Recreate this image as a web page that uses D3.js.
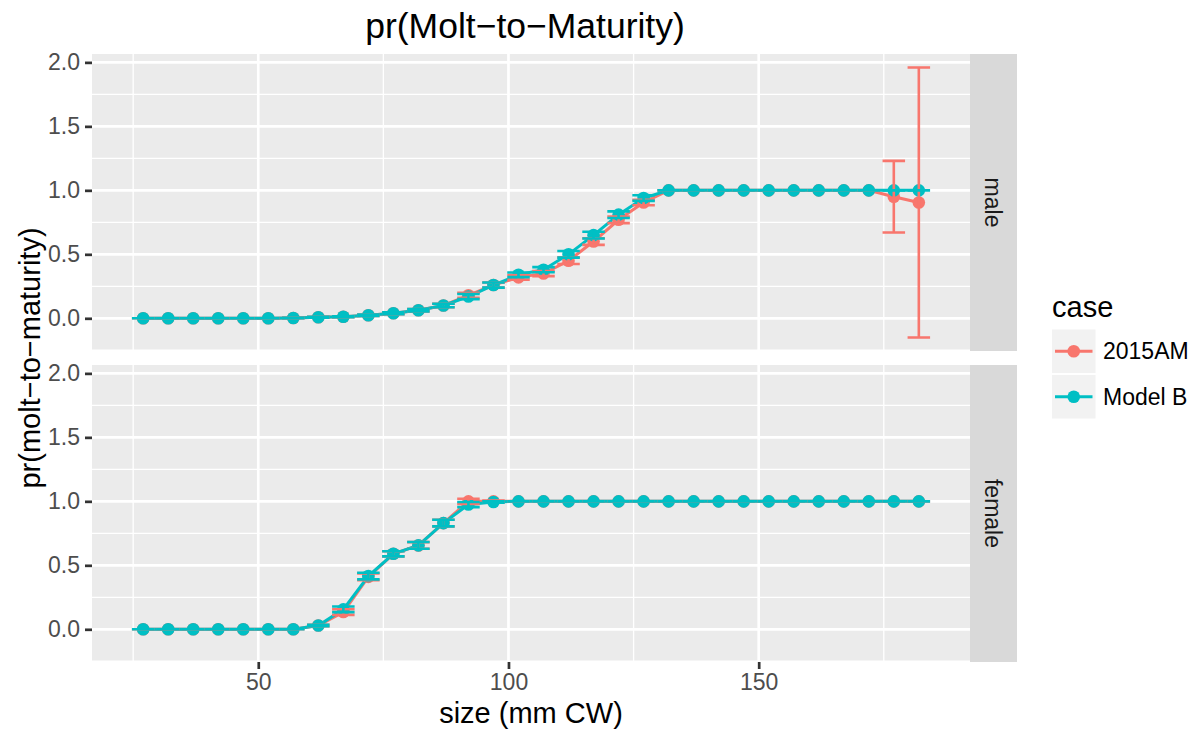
<!DOCTYPE html>
<html><head><meta charset="utf-8">
<script src="https://cdn.jsdelivr.net/npm/d3@7"></script>
<style>
body{margin:0;background:#fff}
text{font-family:"Liberation Sans",Arial,Helvetica,sans-serif}
</style>
</head><body>
<svg id="c" width="1198" height="732"></svg>
<script>
// ---- data ----
const sizes = [27,32,37,42,47,52,57,62,67,72,77,82,87,92,97,102,107,112,117,122,127,132,137,142,147,152,157,162,167,172,177,182];
const cases = ["2015AM","Model B"];
const caseColors = ["#F8766D","#00BFC4"];
const facets = ["male","female"];

const male2015   = [0,0,0,0,0,0,0.002,0.008,0.012,0.024,0.04,0.063,0.1,0.18,0.26,0.32,0.35,0.45,0.6,0.77,0.905,1,1,1,1,1,1,1,1,1,0.95,0.905];
const male2015se = [0,0,0,0,0,0,0.002,0.003,0.004,0.005,0.007,0.01,0.014,0.02,0.02,0.018,0.02,0.026,0.026,0.026,0.022,0,0,0,0,0,0,0,0,0,0.28,1.055];
const maleB      = [0,0,0,0,0,0,0.002,0.008,0.012,0.024,0.04,0.063,0.1,0.17,0.26,0.34,0.38,0.5,0.65,0.81,0.94,1,1,1,1,1,1,1,1,1,1,1];
const maleBse    = [0,0,0,0,0,0,0.002,0.003,0.004,0.005,0.007,0.01,0.014,0.02,0.02,0.018,0.02,0.026,0.026,0.026,0.022,0,0,0,0,0,0,0,0,0,0,0];

const female2015   = [0,0,0,0,0,0,0,0.03,0.135,0.41,0.59,0.655,0.83,1.0,1,1,1,1,1,1,1,1,1,1,1,1,1,1,1,1,1,1];
const female2015se = [0,0,0,0,0,0,0,0.006,0.022,0.026,0.02,0.026,0.026,0.02,0.006,0,0,0,0,0,0,0,0,0,0,0,0,0,0,0,0,0];
const femaleB      = [0,0,0,0,0,0,0,0.03,0.156,0.416,0.59,0.656,0.83,0.975,0.995,1,1,1,1,1,1,1,1,1,1,1,1,1,1,1,1,1];
const femaleBse    = [0,0,0,0,0,0,0,0.006,0.022,0.026,0.02,0.026,0.026,0.02,0.006,0,0,0,0,0,0,0,0,0,0,0,0,0,0,0,0,0];

const xTicks = [50,100,150];
const xMinor = [25,75,125,175];
const yTicks = [0,0.5,1,1.5,2];
const yTickLabels = ["0.0","0.5","1.0","1.5","2.0"];
const yMinor = [-0.25,0.25,0.75,1.25,1.75];

// ---- layout ----
const svg = d3.select("#c");
const L = 92, R = 970, stripW = 47;
const panelTops = [54, 365], panelH = 297;
const capHalf = 2.25;

const series = [
  [{v:male2015, se:male2015se},{v:maleB, se:maleBse}],
  [{v:female2015, se:female2015se},{v:femaleB, se:femaleBse}]
];

// domains with ggplot-like 5% expansion
const xlo = d3.min(sizes)-capHalf, xhi = d3.max(sizes)+capHalf;
const xpad = (xhi-xlo)*0.05;
const x = d3.scaleLinear().domain([xlo-xpad, xhi+xpad]).range([L, R]);
let ylo = Infinity, yhi = -Infinity;
series.forEach(p=>p.forEach(s=>s.v.forEach((v,i)=>{ylo=Math.min(ylo,v-s.se[i]); yhi=Math.max(yhi,v+s.se[i]);})));
const ypad = (yhi-ylo)*0.05;

const fontSmall = 23, fontMid = 29;

facets.forEach((f, fi) => {
  const top = panelTops[fi];
  const y = d3.scaleLinear().domain([ylo-ypad, yhi+ypad]).range([top+panelH, top]);
  const g = svg.append("g");
  g.append("rect").attr("x",L).attr("y",top).attr("width",R-L).attr("height",panelH).attr("fill","#ebebeb");
  // minor grid
  yMinor.filter(t=>y(t)>=top && y(t)<=top+panelH).forEach(t=>g.append("line").attr("x1",L).attr("x2",R).attr("y1",y(t)).attr("y2",y(t)).attr("stroke","#fff").attr("stroke-width",1.35));
  xMinor.forEach(t=>g.append("line").attr("x1",x(t)).attr("x2",x(t)).attr("y1",top).attr("y2",top+panelH).attr("stroke","#fff").attr("stroke-width",1.35));
  yTicks.forEach(t=>g.append("line").attr("x1",L).attr("x2",R).attr("y1",y(t)).attr("y2",y(t)).attr("stroke","#fff").attr("stroke-width",2.7));
  xTicks.forEach(t=>g.append("line").attr("x1",x(t)).attr("x2",x(t)).attr("y1",top).attr("y2",top+panelH).attr("stroke","#fff").attr("stroke-width",2.7));

  // y axis
  const ya = g.append("g").attr("transform",`translate(${L},0)`)
    .call(d3.axisLeft(y).tickValues(yTicks).tickFormat((d,i)=>yTickLabels[i]).tickSize(7).tickPadding(5));
  ya.select(".domain").remove();
  ya.selectAll(".tick line").attr("stroke","#333").attr("stroke-width",2.7);
  ya.selectAll(".tick text").attr("fill","#4d4d4d").style("font-size",fontSmall+"px").style("font-family",'"Liberation Sans",Arial,sans-serif');

  // strip
  g.append("rect").attr("x",R).attr("y",top).attr("width",stripW).attr("height",panelH).attr("fill","#d9d9d9");
  g.append("text").attr("transform",`translate(${R+stripW/2},${top+panelH/2}) rotate(90)`)
    .attr("text-anchor","middle").attr("dy","0.35em").attr("fill","#1a1a1a").style("font-size",fontSmall+"px").text(f);

  const line = d3.line().x((d,i)=>x(sizes[i])).y(d=>y(d));
  // lines
  series[fi].forEach((s,si)=>g.append("path").attr("d",line(s.v)).attr("fill","none").attr("stroke",caseColors[si]).attr("stroke-width",3));
  // points
  series[fi].forEach((s,si)=>g.append("g").selectAll("circle").data(s.v).join("circle")
    .attr("cx",(d,i)=>x(sizes[i])).attr("cy",d=>y(d)).attr("r",6.3).attr("fill",caseColors[si]));
  // error bars
  series[fi].forEach((s,si)=>{
    const eg = g.append("g").attr("stroke",caseColors[si]).attr("stroke-width",2.6).attr("fill","none");
    s.v.forEach((v,i)=>{
      const lo = y(v - s.se[i]), hi = y(v + s.se[i]);
      const xc = x(sizes[i]), x0 = x(sizes[i]-capHalf), x1 = x(sizes[i]+capHalf);
      eg.append("path").attr("d",`M${x0},${hi}H${x1}M${xc},${hi}V${lo}M${x0},${lo}H${x1}`);
    });
  });

  if (fi === 1) {
    const xa = g.append("g").attr("transform",`translate(0,${top+panelH})`)
      .call(d3.axisBottom(x).tickValues(xTicks).tickSize(7).tickPadding(5));
    xa.select(".domain").remove();
    xa.selectAll(".tick line").attr("stroke","#333").attr("stroke-width",2.7);
    xa.selectAll(".tick text").attr("fill","#4d4d4d").style("font-size",fontSmall+"px").style("font-family",'"Liberation Sans",Arial,sans-serif');
  }
});

// titles
svg.append("text").attr("x",525).attr("y",38).attr("text-anchor","middle").attr("fill","#000").style("font-size","35.5px").text("pr(Molt\u2212to\u2212Maturity)");
svg.append("text").attr("x",531).attr("y",723).attr("text-anchor","middle").attr("fill","#000").style("font-size",fontMid+"px").text("size (mm CW)");
svg.append("text").attr("transform","translate(40,358) rotate(-90)").attr("text-anchor","middle").attr("fill","#000").style("font-size",fontMid+"px").text("pr(molt\u2212to\u2212maturity)");

// legend
const lg = svg.append("g");
lg.append("text").attr("x",1052).attr("y",317).style("font-size",fontMid+"px").attr("fill","#000").text("case");
cases.forEach((c,i)=>{
  const ky = 329.5 + i*45.5;
  lg.append("rect").attr("x",1052).attr("y",ky).attr("width",43.5).attr("height",43.5).attr("fill","#f2f2f2");
  lg.append("line").attr("x1",1055).attr("x2",1092.5).attr("y1",ky+21.75).attr("y2",ky+21.75).attr("stroke",caseColors[i]).attr("stroke-width",3);
  lg.append("circle").attr("cx",1073.75).attr("cy",ky+21.75).attr("r",6.3).attr("fill",caseColors[i]);
  lg.append("text").attr("x",1103).attr("y",ky+21.75).attr("dy","0.35em").style("font-size",fontSmall+"px").attr("fill","#000").text(c);
});
</script>
</body></html>
